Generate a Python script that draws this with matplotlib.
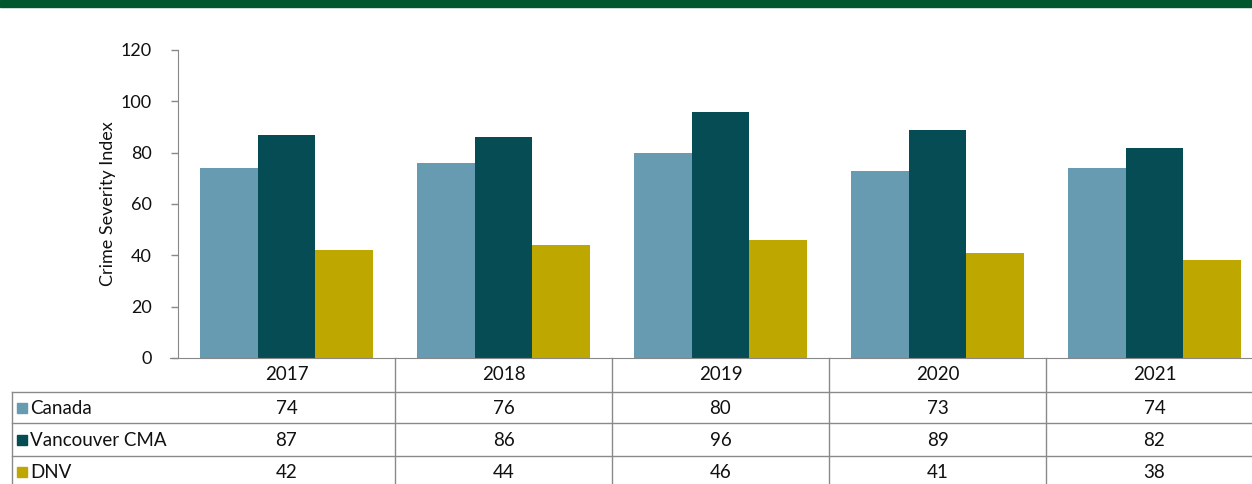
import matplotlib.pyplot as plt
import matplotlib.transforms as mtransforms
import numpy as np
from matplotlib.patches import Rectangle

years = ["2017", "2018", "2019", "2020", "2021"]
series = ["Canada", "Vancouver CMA", "DNV"]
canada = [74, 76, 80, 73, 74]
vancouver = [87, 86, 96, 89, 82]
dnv = [42, 44, 46, 41, 38]
colors = ["#669BB1", "#054C55", "#BEA800"]

plt.rcParams["font.family"] = ["Lato", "DejaVu Sans"]

W, H = 1252, 484
fig = plt.figure(figsize=(W / 100, H / 100), dpi=100)


def fx(px):
    return px / W


def fy(py):
    return 1 - py / H


# plot area: left axis at x=178, y=0 at 358, y=120 at 50 (runs off the right edge)
ax = fig.add_axes([fx(178), fy(358), fx(1263 - 178), fy(50) - fy(358)])

x = np.arange(len(years))
width = 0.267
for i, (vals, col) in enumerate(zip([canada, vancouver, dnv], colors)):
    ax.bar(x + (i - 1) * width, vals, width, color=col, linewidth=0)

ax.set_xlim(-0.5, len(years) - 0.5)
ax.set_ylim(0, 120)
ax.set_yticks(range(0, 121, 20))
ax.set_xticks([])
ax.tick_params(axis="y", length=5, width=1, color="#888888", pad=14, labelsize=13, labelcolor="#111111")
for s in ["top", "right"]:
    ax.spines[s].set_visible(False)
ax.spines["left"].set_color("#888888")
ax.spines["bottom"].set_color("#888888")
ax.spines["bottom"].set_bounds(-0.535, len(years) - 0.5)
ax.set_ylabel("Crime Severity Index", fontsize=13, color="#111111", labelpad=3)

# green band at the top
fig.patches.append(Rectangle((0, fy(7)), 1, 1 - fy(7), transform=fig.transFigure,
                             color="#00562D", zorder=0))

# data table under the axis
line_kw = dict(color="#8a8a8a", lw=1, transform=fig.transFigure, clip_on=False)
blend = mtransforms.blended_transform_factory(ax.transData, fig.transFigure)
row_lines = [392, 423, 456, 487]
for py in row_lines:
    fig.add_artist(plt.Line2D([fx(12), 1], [fy(py), fy(py)], **line_kw))
fig.add_artist(plt.Line2D([fx(12), fx(12)], [fy(392), 0], **line_kw))
for xb in np.arange(len(years)) + 0.5:
    ax.plot([xb, xb], [fy(358), 0], color="#8a8a8a", lw=1, transform=blend, clip_on=False)

text_kw = dict(fontsize=13.5, color="#111111", va="center")
for i, yr in enumerate(years):
    ax.text(i, fy(375), yr, ha="center", transform=blend, **text_kw)

row_centers = [408, 440, 472]
for name, vals, col, py in zip(series, [canada, vancouver, dnv], colors, row_centers):
    fig.patches.append(Rectangle((fx(17), fy(py + 5)), fx(10), fy(py - 5) - fy(py + 5),
                                 transform=fig.transFigure, color=col))
    fig.text(fx(30), fy(py), name, ha="left", **text_kw)
    for i, v in enumerate(vals):
        ax.text(i, fy(py), str(v), ha="center", transform=blend, **text_kw)

fig.savefig("out.png", dpi=100)
